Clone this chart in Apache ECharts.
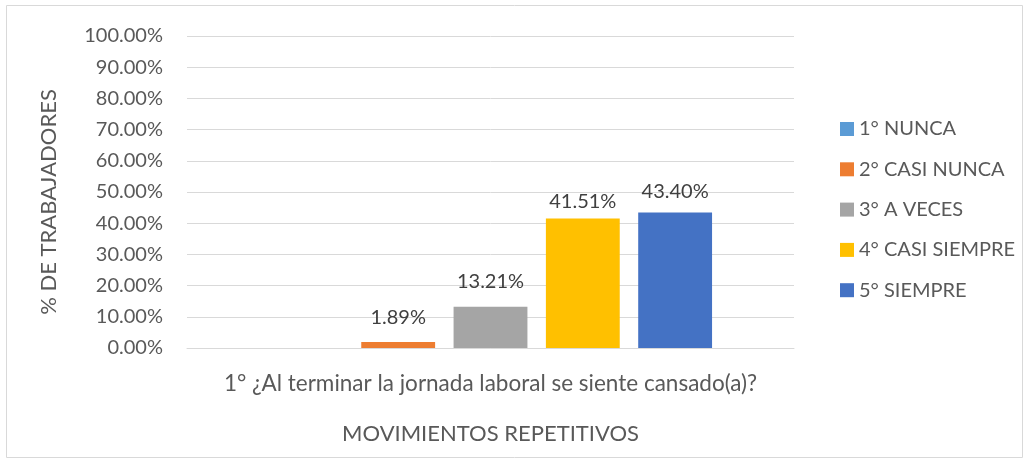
<!DOCTYPE html>
<html>
<head>
<meta charset="utf-8">
<script src="https://cdn.jsdelivr.net/npm/echarts@6/dist/echarts.min.js"></script>
<style>
html,body{margin:0;padding:0;background:#fff;}
#main{width:1031px;height:463px;}
</style>
</head>
<body>
<div id="main"></div>
<script>
// datos del grafico
var categorias = ['1° ¿Al terminar la jornada laboral se siente cansado(a)?'];
var series_nombres = ['1° NUNCA', '2° CASI NUNCA', '3° A VECES', '4° CASI SIEMPRE', '5° SIEMPRE'];
var valores = [0, 1.89, 13.21, 41.51, 43.40];
var ticks_y = [0, 10, 20, 30, 40, 50, 60, 70, 80, 90, 100];

window.onload = function(){
	var myChart = echarts.init(document.getElementById('main'));
	var fuente = 'Lato';
	var colores = ['#5b9bd5', '#ed7d31', '#a5a5a5', '#ffc000', '#4472c4'];
	var distancias = [6, 15, 15, 7, 11]; // separacion de etiquetas como en excel
	var series = [];
	for (var i = 0; i < series_nombres.length; i++) {
		series.push({
			name: series_nombres[i],
			type: 'bar',
			data: [valores[i]],
			barGap: '25%',
			barCategoryGap: '27%',
			itemStyle: { color: colores[i] },
			label: {
				show: true,
				position: 'top',
				distance: distancias[i],
				color: '#404040',
				fontSize: 20,
				fontFamily: fuente,
				formatter: function(p){ return p.value > 0 ? p.value.toFixed(2) + '%' : ''; }
			}
		});
	}
	var option = {
		animation: false,
		textStyle: { fontFamily: fuente },
		graphic: [{
			type: 'rect',
			shape: { x: 6.5, y: 5.5, width: 1016, height: 452 },
			style: { fill: 'none', stroke: '#d9d9d9', lineWidth: 1 },
			silent: true
		}],
		grid: { left: 187, right: 237, top: 36, bottom: 115 },
		legend: {
			orient: 'vertical',
			left: 835,
			top: 114,
			itemWidth: 14,
			itemHeight: 14,
			itemGap: 20.3,
			icon: 'rect',
			textStyle: { color: '#595959', fontSize: 20, lineHeight: 20, fontFamily: fuente },
			data: series_nombres
		},
		xAxis: {
			type: 'category',
			data: categorias,
			name: 'MOVIMIENTOS REPETITIVOS',
			nameLocation: 'middle',
			nameGap: 75,
			nameTextStyle: { color: '#595959', fontSize: 22, fontFamily: fuente },
			axisLine: { lineStyle: { color: '#d9d9d9', width: 1 } },
			axisTick: { show: false },
			axisLabel: { color: '#595959', fontSize: 22.5, margin: 24, fontFamily: fuente }
		},
		yAxis: {
			type: 'value',
			min: ticks_y[0],
			max: ticks_y[ticks_y.length - 1],
			interval: 10,
			name: '% DE TRABAJADORES',
			nameLocation: 'middle',
			nameGap: 127,
			nameTextStyle: { color: '#595959', fontSize: 22, fontFamily: fuente, padding: [0, 20, 0, 0] },
			axisLine: { show: false },
			axisTick: { show: false },
			axisLabel: {
				color: '#595959', fontSize: 20, margin: 24, fontFamily: fuente,
				formatter: function(v){ return v.toFixed(2) + '%'; }
			},
			splitLine: { lineStyle: { color: '#d9d9d9', width: 1 } }
		},
		series: series
	};
	myChart.setOption(option);
};
</script>
</body>
</html>
